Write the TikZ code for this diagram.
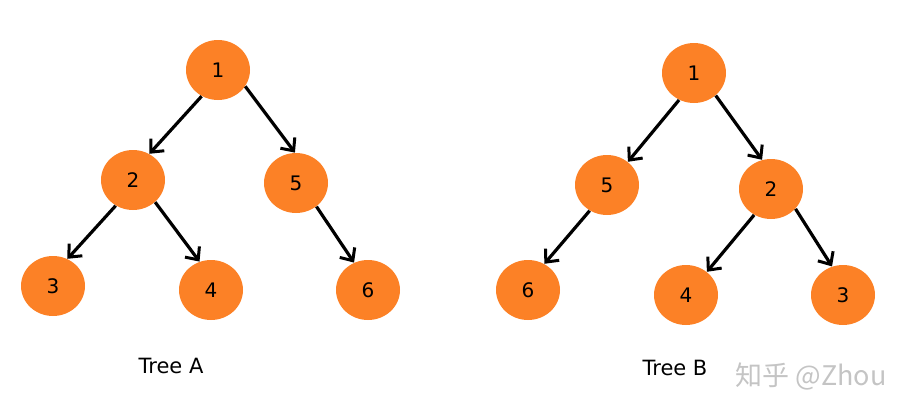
\documentclass[tikz,border=0pt]{standalone}
\usepackage{fontspec}
\setmainfont{DejaVu Sans}
\newfontfamily\cjkfont{Noto Sans CJK SC}
\usepackage{xcolor}
\usepackage{tikz}
\usetikzlibrary{shapes.geometric, arrows.meta}

\definecolor{nodeorange}{HTML}{FC8126}
\definecolor{markgray}{HTML}{C4C4C4}

\tikzset{
    treenode/.style={ellipse, fill=nodeorange, minimum width=32pt, minimum height=30pt, inner sep=0pt, font=\fontsize{10}{11}\selectfont},
    treeedge/.style={line width=1.6pt, -{Straight Barb[length=5pt, width=9pt, line width=1.5pt]}},
    caption/.style={font=\fontsize{10.5}{12}\selectfont}
}

\begin{document}
\begin{tikzpicture}[x=0.5pt, y=-0.5pt]
    \useasboundingbox (0,0) rectangle (911,413);

    % Tree A
    \node[treenode] (a1) at (218,70) {1};
    \node[treenode] (a2) at (133,180) {2};
    \node[treenode] (a5) at (296,183) {5};
    \node[treenode] (a3) at (53,286) {3};
    \node[treenode] (a4) at (211,290) {4};
    \node[treenode] (a6) at (368,290) {6};
    \node[caption] (capA) at (171,366) {Tree A};

    \draw[treeedge] (a1.-122) -- (a2.58);
    \draw[treeedge] (a1.-31) -- (a5.92);
    \draw[treeedge] (a2.-124) -- (a3.62);
    \draw[treeedge] (a2.-45) -- (a4.112);
    \draw[treeedge] (a5.-49) -- (a6.117);

    % Tree B
    \node[treenode] (b1) at (694,73) {1};
    \node[treenode] (b5) at (607,185) {5};
    \node[treenode] (b2) at (771,189) {2};
    \node[treenode] (b6) at (528,290) {6};
    \node[treenode] (b4) at (686,295) {4};
    \node[treenode] (b3) at (843,295) {3};
    \node[caption] (capB) at (675,368) {Tree B};

    \draw[treeedge] (b1.-119) -- (b5.48);
    \draw[treeedge] (b1.-46) -- (b2.107);
    \draw[treeedge] (b5.-124) -- (b6.58);
    \draw[treeedge] (b2.-123) -- (b4.48);
    \draw[treeedge] (b2.-39) -- (b3.111);

    % watermark
    \node[text=markgray, font=\cjkfont\fontsize{13.5}{15}\selectfont] (mark) at (811,376) {知乎 @Zhou};
\end{tikzpicture}
\end{document}
